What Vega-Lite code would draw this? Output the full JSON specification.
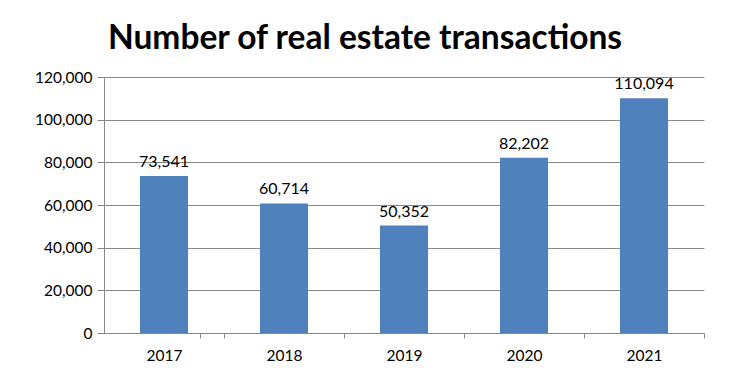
{
  "$schema": "https://vega.github.io/schema/vega-lite/v6.json",
  "autosize": "none",
  "width": 600,
  "height": 256,
  "padding": {"left": 104, "top": 77, "right": 26, "bottom": 47},
  "background": "white",
  "title": {
    "text": "Number of real estate transactions",
    "font": "Lato",
    "fontSize": 33.5,
    "fontWeight": "bold",
    "color": "#000000",
    "anchor": "middle",
    "dx": -39,
    "offset": 14
  },
  "config": {
    "view": {"stroke": null},
    "axis": {"labelFont": "Lato", "labelFontSize": 15.5, "labelColor": "#000000", "domainColor": "#888888", "tickColor": "#888888", "gridColor": "#888888", "title": null}
  },
  "data": {
    "values": [
      {"year": "2017", "count": 73541},
      {"year": "2018", "count": 60714},
      {"year": "2019", "count": 50352},
      {"year": "2020", "count": 82202},
      {"year": "2021", "count": 110094}
    ]
  },
  "encoding": {
    "x": {
      "field": "year",
      "type": "ordinal",
      "scale": {"paddingInner": 0.6, "paddingOuter": 0.3},
      "axis": {"labelAngle": 0, "labelPadding": 10, "tickSize": 5, "tickOffset": 60, "labelOffset": -60, "tickExtra": true, "grid": false}
    },
    "y": {
      "field": "count",
      "type": "quantitative",
      "scale": {"domain": [0, 120000], "nice": false},
      "axis": {"values": [0, 20000, 40000, 60000, 80000, 100000, 120000], "format": ",d", "tickSize": 7, "labelPadding": 5, "grid": true}
    }
  },
  "layer": [
    {"mark": {"type": "bar", "color": "#4F81BD"}},
    {
      "mark": {"type": "text", "font": "Lato", "fontSize": 16, "baseline": "bottom", "dy": -6, "color": "#000000"},
      "encoding": {"text": {"field": "count", "type": "quantitative", "format": ",d"}}
    }
  ]
}
